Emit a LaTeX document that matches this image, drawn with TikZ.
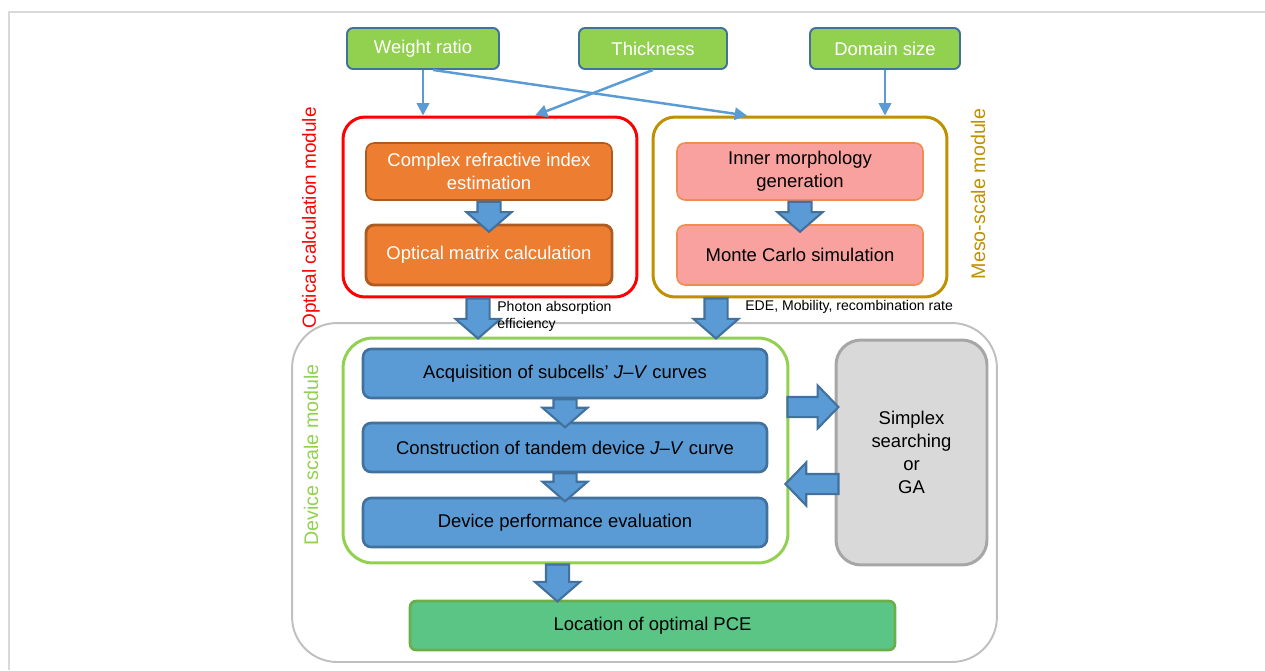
\documentclass[tikz,border=0pt]{standalone}
\usepackage{fontspec}
\setmainfont{Liberation Sans}
\usetikzlibrary{arrows.meta,positioning,shapes.arrows,calc}
\definecolor{inputgreen}{HTML}{92D050}
\definecolor{edgeblue}{HTML}{41719C}
\definecolor{thinblue}{HTML}{5B9BD5}
\definecolor{optorange}{HTML}{ED7D31}
\definecolor{optedge}{HTML}{AE5A21}
\definecolor{mesopink}{HTML}{F9A19E}
\definecolor{mesoedge}{HTML}{F08C4F}
\definecolor{optred}{HTML}{FF0000}
\definecolor{mesogold}{HTML}{BF9000}
\definecolor{outergray}{HTML}{BFBFBF}
\definecolor{simplexfill}{HTML}{D9D9D9}
\definecolor{simplexedge}{HTML}{A6A6A6}
\definecolor{pcegreen}{HTML}{5BC586}
\definecolor{pceedge}{HTML}{6AAE4A}
\definecolor{framegray}{HTML}{D9D9D9}

\begin{document}
\begin{tikzpicture}[
  x=0.02cm, y=-0.02cm,
  font=\fontsize{10.5}{13}\selectfont,
  inbox/.style={draw=edgeblue,fill=inputgreen,text=white,line width=1.1pt,
                rounded corners=0.12cm,minimum height=0.82cm},
  module/.style={rounded corners=0.44cm,line width=1.7pt,
                 minimum width=5.88cm,minimum height=3.6cm},
  optbox/.style={draw=optedge,fill=optorange,text=white,line width=0.9pt,
                 rounded corners=0.16cm,minimum width=4.92cm,align=center},
  mesobox/.style={draw=mesoedge,fill=mesopink,line width=0.9pt,
                  rounded corners=0.16cm,minimum width=4.92cm,align=center},
  stepbox/.style={draw=edgeblue,fill=thinblue,line width=1.5pt,
                  rounded corners=0.16cm,minimum width=8.08cm,minimum height=0.98cm},
  sidelabel/.style={rotate=90,font=\fontsize{10.8}{13}\selectfont},
  smalllabel/.style={font=\fontsize{8}{9.6}\selectfont,align=left,inner sep=0pt},
  thin/.style={-{Triangle[length=7pt,width=7pt]},draw=thinblue,line width=1.4pt},
  fatdown/.style={single arrow,draw=edgeblue,fill=thinblue,line width=1.2pt,
                  inner xsep=0pt,inner ysep=0.21cm,single arrow head extend=0.22cm,
                  single arrow tip angle=98,rotate=-90,anchor=tail,outer sep=0pt},
  fatside/.style={single arrow,draw=edgeblue,fill=thinblue,line width=1.2pt,
                  inner xsep=0pt,inner ysep=0.18cm,single arrow head extend=0.23cm,
                  single arrow tip angle=92,outer sep=0pt}
]
\useasboundingbox (0,0) rectangle (1265,670);
\draw[framegray,line width=1pt] (9,670) -- (9,12) -- (1265,12);

% inputs
\node[inbox,minimum width=3.04cm] (wr) at (423,48.5) {Weight ratio};
\node[inbox,minimum width=2.96cm] (th) at (653,48.5) {Thickness};
\node[inbox,minimum width=3.0cm] (ds) at (885,48.5) {Domain size};

% optical and meso-scale modules
\node[module,draw=optred] (optmod) at (490,207) {};
\node[module,draw=mesogold] (mesomod) at (800,207) {};
\node[optbox,minimum height=1.14cm] (cri) at (489,171.5) {Complex refractive index\\estimation};
\node[optbox,minimum height=1.2cm,line width=1.6pt] (omc) at (489,255) {Optical matrix calculation};
\node[mesobox,minimum height=1.14cm] (img) at (800,171.5) {Inner morphology\\generation};
\node[mesobox,minimum height=1.2cm] (mcs) at (800,255) {Monte Carlo simulation};
\node[sidelabel,text=optred] (optlab) at (311,218) {Optical calculation module};
\node[sidelabel,text=mesogold,font=\fontsize{11.2}{13}\selectfont] (mesolab) at (978,194) {Meso-scale module};

% device scale
\node[draw=outergray,line width=1.1pt,rounded corners=0.9cm,
      minimum width=14.1cm,minimum height=6.78cm] (devout) at (644.5,492.5) {};
\node[draw=inputgreen,line width=1.7pt,rounded corners=0.6cm,
      minimum width=8.9cm,minimum height=4.5cm] (devmod) at (565.5,450.5) {};
\node[stepbox] (acq) at (565,373.5) {Acquisition of subcells’ \textit{J}–\textit{V} curves};
\node[stepbox] (con) at (565,447.5) {Construction of tandem device \textit{J}–\textit{V} curve};
\node[stepbox] (perf) at (565,522.5) {Device performance evaluation};
\node[draw=simplexedge,fill=simplexfill,line width=1.7pt,rounded corners=0.5cm,
      minimum width=3.02cm,minimum height=4.5cm,align=center] (gsx) at (911.5,452.5)
      {Simplex\\searching\\or\\GA};
\node[draw=pceedge,fill=pcegreen,line width=1.5pt,rounded corners=0.12cm,
      minimum width=9.7cm,minimum height=0.98cm] (pce) at (652.5,625.5) {Location of optimal PCE};
\node[sidelabel,text=inputgreen,font=\fontsize{11.2}{13}\selectfont] (devlab) at (311,455) {Device scale module};

% thin arrows
\draw[thin] (wr.south) -- (wr.south |- optmod.north);
\draw[thin] ($(wr.south)+(10,0)$) -- ($(mesomod.north)+(-53,0)$);
\draw[thin] (th.south) -- ($(optmod.north)+(45,0)$);
\draw[thin] (ds.south) -- (ds.south |- mesomod.north);

% block arrows
\node[fatdown,minimum height=0.6cm] (fa1) at ($(cri.south)+(0,1)$) {};
\node[fatdown,minimum height=0.6cm] (fa2) at ($(img.south)+(0,1)$) {};
\node[fatdown,minimum height=0.8cm] (fa3) at ($(optmod.south)+(-12,0)$) {};
\node[fatdown,minimum height=0.8cm] (fa4) at ($(mesomod.south)+(-84,0)$) {};
\node[fatdown,minimum height=0.56cm] (fa5) at (acq.south) {};
\node[fatdown,minimum height=0.56cm] (fa6) at (con.south) {};
\node[fatdown,minimum height=0.74cm] (fa7) at ($(devmod.south)+(-8,0)$) {};
\node[fatside,minimum height=1.02cm,anchor=tail] (fa8) at ($(devmod.east)+(-2,-43.5)$) {};
\node[fatside,minimum height=1.06cm,rotate=180,anchor=tip] (fa9) at ($(devmod.east)+(-4,33.5)$) {};

\node[smalllabel,anchor=north west] (phlab) at (497,301) {Photon absorption\\efficiency};
\node[smalllabel,anchor=west] (edelab) at (745,307) {EDE, Mobility, recombination rate};
\end{tikzpicture}
\end{document}
